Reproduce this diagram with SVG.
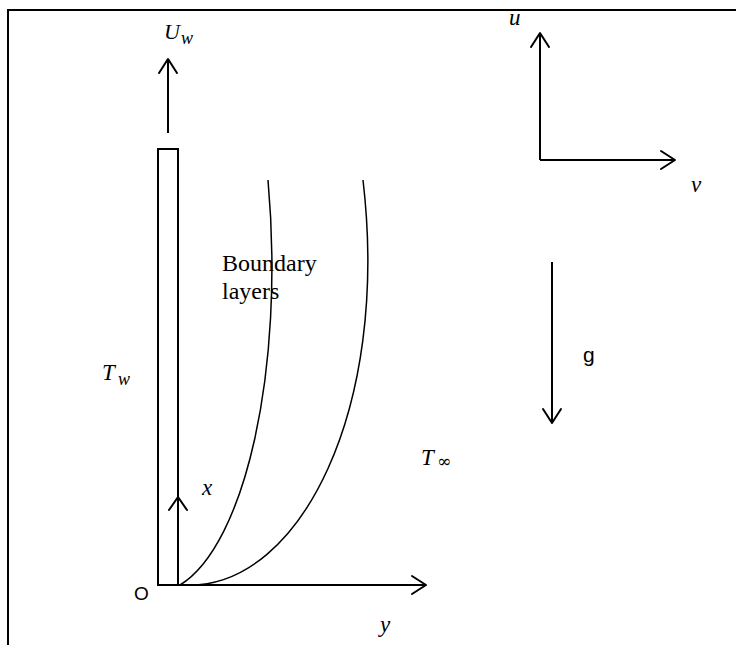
<svg xmlns="http://www.w3.org/2000/svg" width="736" height="645" viewBox="0 0 736 645">
  <defs>
    <style>
      .ln { stroke: #000; stroke-width: 2; fill: none; }
      .cv { stroke: #000; stroke-width: 1.5; fill: none; }
      .head { stroke: #000; stroke-width: 2; fill: none; stroke-linecap: round; stroke-linejoin: round; }
      .math { font-family: "Liberation Serif", "DejaVu Serif", serif; font-style: italic; fill: #000; }
      .txt { font-family: "Liberation Serif", "Times New Roman", serif; font-size: 24px; fill: #000; }
      .sans { font-family: "Liberation Sans", "DejaVu Sans", sans-serif; fill: #000; }
    </style>
    <filter id="shadow" x="-10%" y="-300%" width="120%" height="700%">
      <feGaussianBlur stdDeviation="2"/>
    </filter>
  </defs>
  <rect width="736" height="645" fill="#fff"/>

  <!-- frame -->
  <g id="frame">
    <polyline points="8,645 8,10 736,10" stroke="#000" stroke-width="2" fill="none"/>
  </g>

  <!-- plate -->
  <g id="plate">
    <rect x="158" y="149" width="20" height="436" class="ln"/>
  </g>

  <!-- connectors -->
  <g id="connectors">
    <!-- Uw arrow -->
    <line x1="168" y1="133" x2="168" y2="59" class="ln"/>
    <polyline points="159,73 168,59 177,73" class="head"/>
    <!-- u axis -->
    <line x1="540" y1="160" x2="540" y2="33" class="ln"/>
    <polyline points="531,47 540,33 549,47" class="head"/>
    <!-- v axis -->
    <line x1="540" y1="160" x2="675" y2="160" class="ln"/>
    <polyline points="661,151 675,160 661,169" class="head"/>
    <!-- g arrow -->
    <line x1="552" y1="262" x2="552" y2="423" class="ln"/>
    <polyline points="543,409 552,423 561,409" class="head"/>
    <!-- x arrowhead on plate edge -->
    <polyline points="169,510 178,497 187,510" class="head"/>
    <!-- y axis with shadow -->
    <line x1="180" y1="588" x2="424" y2="588" stroke="#999" stroke-width="3" filter="url(#shadow)"/>
    <line x1="178" y1="585" x2="426" y2="585" class="ln"/>
    <polyline points="412,576 426,585 412,594" class="head"/>
    <!-- boundary layer curves -->
    <path d="M180,585 C245,545 285,370 268,180" class="cv"/>
    <path d="M190,585 C300,585 390,410 363,180" class="cv"/>
  </g>

  <!-- labels -->
  <g id="labels">
    <text x="164" y="39" class="math" font-size="22">U</text>
    <text x="181" y="44" class="math" font-size="18">w</text>
    <text x="509" y="25" class="math" font-size="23">u</text>
    <text x="691" y="192" class="math" font-size="23">v</text>
    <text x="222" y="271" class="txt">Boundary</text>
    <text x="222" y="299" class="txt">layers</text>
    <text x="102" y="380" class="math" font-size="23">T</text>
    <text x="118" y="385" class="math" font-size="18">w</text>
    <text x="583" y="362" class="sans" font-size="21">g</text>
    <text x="421" y="465" class="math" font-size="23">T</text>
    <text x="437" y="467" font-family="'DejaVu Serif', serif" font-size="17" fill="#000">∞</text>
    <text x="202" y="495" class="math" font-size="23">x</text>
    <text x="134" y="600" class="sans" font-size="19">O</text>
    <text x="380" y="632" class="math" font-size="23">y</text>
  </g>
</svg>
